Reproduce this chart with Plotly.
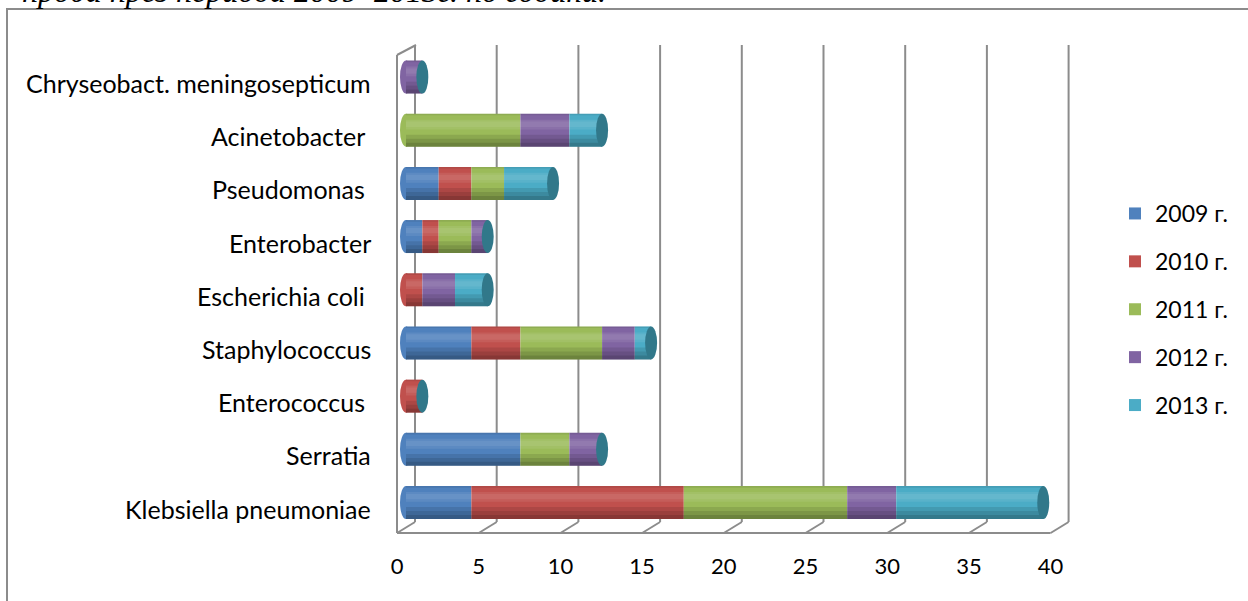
import plotly.graph_objects as go

# ---------------- data ----------------
categories = ["Klebsiella pneumoniae", "Serratia", "Enterococcus ", "Staphylococcus",
              "Escherichia coli ", "Enterobacter", "Pseudomonas ", "Acinetobacter ",
              "Chryseobact. meningosepticum"]
years = ["2009 г.", "2010 г.", "2011 г.", "2012 г.", "2013 г."]
v2009 = [4, 7, 0, 4, 0, 1, 2, 0, 0]
v2010 = [13, 0, 1, 3, 1, 1, 2, 0, 0]
v2011 = [10, 3, 0, 5, 0, 2, 2, 7, 0]
v2012 = [3, 2, 0, 2, 2, 1, 0, 3, 1]
v2013 = [9, 0, 0, 1, 2, 0, 3, 2, 0]
series = [v2009, v2010, v2011, v2012, v2013]
colors = ["#4F81BD", "#C0504D", "#9BBB59", "#8064A2", "#4BACC6"]
x_ticks = [0, 5, 10, 15, 20, 25, 30, 35, 40]
title_text = "проба през периода 2009–2013г. по години."

# ---------------- geometry ----------------
W, H = 1248, 601
PX0 = 397.0          # pixel of value 0 (front)
PPU = 16.34          # pixels per unit
XL, XR = 392.0, 1071.0
YT, YB = 45.0, 533.0
DX, DY = 18, 11      # depth offset of the 3D frame
ml, mr, mt, mb = XL, W - XR, YT, H - YB
pw, ph = XR - XL, YB - YT

def px_x(p):
    return (p - XL) / pw

def px_y(p):
    return (YB - p) / ph

xr = [(XL - PX0) / PPU, (XR - PX0) / PPU]
half = (DX / 2) / PPU
xr2 = [xr[0] - half, xr[1] - half]

# category positions (index) ; y range from measured pixel rows
c0, c8 = 502.5, 77.0
step = (c0 - c8) / 8
yr = [-(YB - c0) / step, 8 + (c8 - YT) / step]
ypos = list(range(len(categories)))
bar_w = 33 / step

fig = go.Figure()

totals = [sum(s[i] for s in series) for i in range(len(categories))]
base = [0] * len(categories)
for name, vals, col in zip(years, series, colors):
    fig.add_trace(go.Bar(
        y=ypos, x=vals, base=list(base), orientation="h", name=name,
        marker=dict(color=col, line=dict(width=0)), width=bar_w,
        xaxis="x2", yaxis="y", legendgroup=name,
    ))
    base = [b + v for b, v in zip(base, vals)]

# cylinder shading (smooth-ish bands)
bands = [(-0.50, 0.36, "rgba(0,0,0,0.10)"),
         (-0.50, 0.24, "rgba(0,0,0,0.10)"),
         (-0.50, 0.12, "rgba(0,0,0,0.12)"),
         (0.02, 0.30, "rgba(255,255,255,0.08)"),
         (0.10, 0.16, "rgba(255,255,255,0.07)"),
         (0.45, 0.05, "rgba(0,0,0,0.08)")]
for off, wd, col in bands:
    fig.add_trace(go.Bar(
        y=ypos, x=totals, base=[0] * len(totals), orientation="h",
        marker=dict(color=col, line=dict(width=0)), width=bar_w * wd, offset=bar_w * off,
        xaxis="x2", yaxis="y", showlegend=False, hoverinfo="skip",
    ))

shapes = []
grid = dict(color="#8C8C8C", width=2)
# back gridlines + floor slants
for v in x_ticks:
    shapes.append(dict(type="line", xref="x", yref="paper", xsizemode="pixel", xanchor=v,
                       ysizemode="pixel", yanchor=0, x0=DX, x1=DX, y0=DY, y1=ph,
                       line=grid, layer="below"))
    shapes.append(dict(type="line", xref="x", yref="paper", xsizemode="pixel", xanchor=v,
                       ysizemode="pixel", yanchor=0, x0=0, x1=DX, y0=0, y1=DY,
                       line=grid, layer="below"))
# front floor line
shapes.append(dict(type="line", xref="x", yref="paper", x0=0, x1=x_ticks[-1], y0=0, y1=0,
                   line=grid, layer="below"))
# front-left wall edge and its top
shapes.append(dict(type="line", xref="x", yref="paper", xsizemode="pixel", xanchor=0,
                   ysizemode="pixel", yanchor=0, x0=0, x1=0, y0=0, y1=ph - 10,
                   line=grid, layer="below"))
shapes.append(dict(type="line", xref="x", yref="paper", xsizemode="pixel", xanchor=0,
                   ysizemode="pixel", yanchor=0, x0=0, x1=DX + 1, y0=ph - 10, y1=ph,
                   line=grid, layer="below"))

# left ends of the cylinders
for i in ypos:
    first = next((c for s, c in zip(series, colors) if s[i] > 0), colors[-1])
    shapes.append(dict(type="circle", xref="x2", yref="y", xsizemode="pixel", xanchor=0,
                       ysizemode="pixel", yanchor=i, x0=-6, x1=6, y0=-16.5, y1=16.5,
                       fillcolor=first, line=dict(width=0), layer="below"))
# right caps
for i, t in zip(ypos, totals):
    shapes.append(dict(type="circle", xref="x2", yref="y", xsizemode="pixel", xanchor=t,
                       ysizemode="pixel", yanchor=i, x0=-6, x1=6, y0=-16.5, y1=16.5,
                       fillcolor="#31788A", line=dict(width=0), layer="above"))

# chart-area border
shapes.append(dict(type="rect", xref="paper", yref="paper",
                   x0=px_x(7), x1=px_x(W + 20), y0=px_y(H + 20), y1=px_y(9),
                   line=dict(color="#8C8C8C", width=2), fillcolor="rgba(0,0,0,0)", layer="below"))

annotations = []
for i, c in zip(ypos, categories):
    txt = c.rstrip() + ("\u00a0" if c.endswith(" ") else "")
    annotations.append(dict(xref="paper", yref="y", x=px_x(373), y=i, xanchor="right",
                            yanchor="middle", yshift=-6, text=txt,
                            showarrow=False, font=dict(family="Lato", size=25, color="#000000")))
annotations.append(dict(xref="paper", yref="paper", x=px_x(20), y=px_y(-9), xanchor="left",
                        yanchor="middle", text="<i>" + title_text + "</i>", showarrow=False,
                        font=dict(family="Liberation Serif", size=32, color="#000000")))

fig.update_layout(
    width=W, height=H,
    margin=dict(l=ml, r=mr, t=mt, b=mb, pad=0),
    paper_bgcolor="#FFFFFF", plot_bgcolor="rgba(0,0,0,0)",
    barmode="overlay",
    font=dict(family="Lato", size=22, color="#000000"),
    xaxis=dict(range=xr, tickvals=x_ticks, showgrid=False, zeroline=False, showline=False,
               ticks="outside", ticklen=0, ticklabelstandoff=14,
               tickfont=dict(family="Lato", size=22, color="#000000"), fixedrange=True),
    xaxis2=dict(range=xr2, overlaying="x", visible=False, fixedrange=True),
    yaxis=dict(range=yr, showticklabels=False, showgrid=False, zeroline=False,
               showline=False, ticks="", fixedrange=True),
    legend=dict(x=px_x(1115), xanchor="left", y=px_y(192), yanchor="top",
                traceorder="grouped", tracegroupgap=15,
                font=dict(family="Lato", size=23, color="#000000"),
                bgcolor="rgba(0,0,0,0)"),
    shapes=shapes, annotations=annotations,
    showlegend=True,
)

fig.write_html("out.html", config={"displayModeBar": False},
               post_script="document.body.style.margin='0';document.body.style.overflow='hidden';")
